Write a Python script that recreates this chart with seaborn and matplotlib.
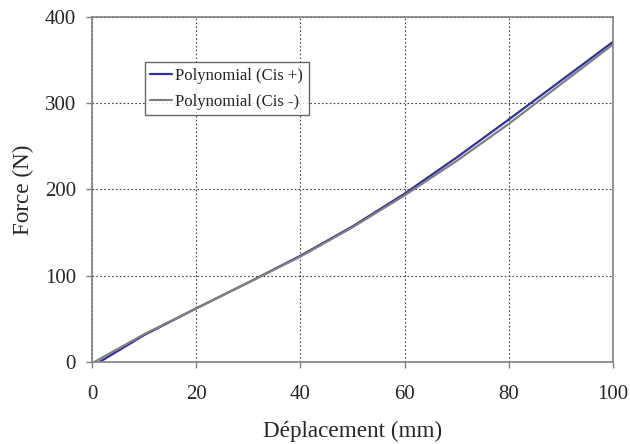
import pandas as pd
import matplotlib.pyplot as plt
import seaborn as sns

# values
deplacement = [1.5, 10, 20, 30, 40, 50, 60, 70, 80, 90, 100]
force_cis_plus = [0, 31, 62, 92, 123, 157, 195, 237, 281, 326, 371]
deplacement_minus = [0.5, 10, 20, 30, 40, 50, 60, 70, 80, 90, 100]
force_cis_minus = [0, 32, 62, 92, 122, 156, 193, 233, 276, 322, 368]

df = pd.concat([
    pd.DataFrame({'x': deplacement, 'y': force_cis_plus, 'serie': 'Polynomial (Cis +)'}),
    pd.DataFrame({'x': deplacement_minus, 'y': force_cis_minus, 'serie': 'Polynomial (Cis -)'}),
])

sns.set_style('white')
plt.rcParams['font.family'] = ['Liberation Serif', 'DejaVu Serif']

fig = plt.figure(figsize=(6.3, 4.44), dpi=100)
ax = fig.add_axes([0.146, 0.185, 0.827, 0.777])

sns.lineplot(data=df, x='x', y='y', hue='serie', ax=ax,
             palette={'Polynomial (Cis +)': '#3030a0', 'Polynomial (Cis -)': '#808080'},
             linewidth=1.6, legend=True, estimator=None, sort=False)

ax.set_xlim(0, 100)
ax.set_ylim(0, 400)
ax.set_xticks([0, 20, 40, 60, 80, 100])
ax.set_yticks([0, 100, 200, 300, 400])
ax.grid(True, linestyle=(0, (1.5, 2)), color='#404040', linewidth=0.8)
for s in ax.spines.values():
    s.set_color('#808080')
    s.set_linewidth(1.2)
ax.tick_params(axis='both', direction='out', length=4.5, width=1, color='#808080',
               labelsize=15, bottom=True, left=True)
ax.tick_params(axis='x', pad=12)
ax.tick_params(axis='y', pad=7)
ax.set_xlabel('Déplacement (mm)', fontsize=16.7, labelpad=12)
ax.set_ylabel('Force (N)', fontsize=16.7, labelpad=8)

leg = ax.legend(loc='upper left', bbox_to_anchor=(0.101, 0.87), fontsize=12,
                frameon=True, fancybox=False, borderpad=0.35, handlelength=1.3,
                handletextpad=0.2, labelspacing=0.6, borderaxespad=0)
leg.get_frame().set_edgecolor('#404040')
leg.get_frame().set_linewidth(1.0)

fig.savefig('out.png', dpi=100)
